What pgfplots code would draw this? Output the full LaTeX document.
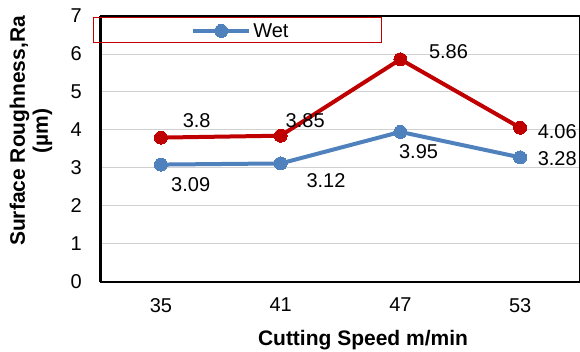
\documentclass[border=0pt]{standalone}
\usepackage{fontspec}
\setmainfont{Liberation Sans}
\usepackage{pgfplots}
\pgfplotsset{compat=1.18}
\definecolor{wetblue}{RGB}{79,129,189}
\definecolor{dryred}{RGB}{192,0,0}
\begin{document}
\begin{tikzpicture}
\useasboundingbox (-101pt,-70pt) rectangle (479pt,282pt);
\begin{axis}[
  scale only axis, width=479pt, height=266pt,
  at={(0pt,0pt)}, anchor=south west,
  xmin=-0.5, xmax=3.5, ymin=0, ymax=7,
  xtick={0,1,2,3}, xticklabels={35,41,47,53},
  ytick={0,1,2,3,4,5,6,7},
  ymajorgrids, grid style={black!18, line width=1pt},
  major tick length=0pt,
  axis line style={black, line width=1.5pt},
  /pgf/number format/assume math mode=true,
  tick label style={font=\fontsize{20}{24}\selectfont, inner sep=0pt},
  yticklabel style={xshift=-19pt},
  xticklabel style={yshift=-16pt},
  xlabel={\textbf{Cutting Speed m/min}},
  ylabel={\textbf{Surface Roughness,Ra}\\\textbf{(µm)}},
  label style={font=\fontsize{21}{23}\selectfont},
  xlabel style={at={(rel axis cs:0.547,-0.218)}, anchor=center},
  ylabel style={at={(rel axis cs:-0.146,0.568)}, anchor=center, align=center},
  clip=false,
  legend style={at={(rel axis cs:0.292,0.944)}, anchor=center, draw=none, fill=none,
    font=\fontsize{20}{24}\selectfont, inner sep=0pt},
  legend image code/.code={\draw[mark repeat=2,mark phase=2,#1] plot coordinates {(0pt,0pt) (28pt,0pt) (56pt,0pt)};},
]
\addplot[dryred, line width=4pt, mark=*, mark size=6.5pt, mark options={line width=0pt, solid}, forget plot] coordinates {(0,3.8) (1,3.85) (2,5.86) (3,4.06)};
\addplot[wetblue, line width=4pt, mark=*, mark size=6.5pt, mark options={line width=0pt, solid}] coordinates {(0,3.09) (1,3.12) (2,3.95) (3,3.28)};
\addlegendentry{Wet}
\draw[black, line width=3pt] (rel axis cs:0,0) -- (rel axis cs:0,1);
\draw[dryred, line width=1pt] (rel axis cs:-0.0167,0.9925) rectangle (rel axis cs:0.5846,0.8985);
\begin{scope}[every node/.style={font=\fontsize{20}{24}\selectfont, inner sep=0pt}]
\node at (axis cs:0.299,4.26) {3.8};
\node at (axis cs:1.205,4.26) {3.85};
\node at (axis cs:2.402,6.05) {5.86};
\node at (axis cs:3.31,3.97) {4.06};
\node at (axis cs:0.249,2.55) {3.09};
\node at (axis cs:1.379,2.68) {3.12};
\node at (axis cs:2.152,3.42) {3.95};
\node at (axis cs:3.31,3.26) {3.28};
\end{scope}
\end{axis}
\end{tikzpicture}
\end{document}
